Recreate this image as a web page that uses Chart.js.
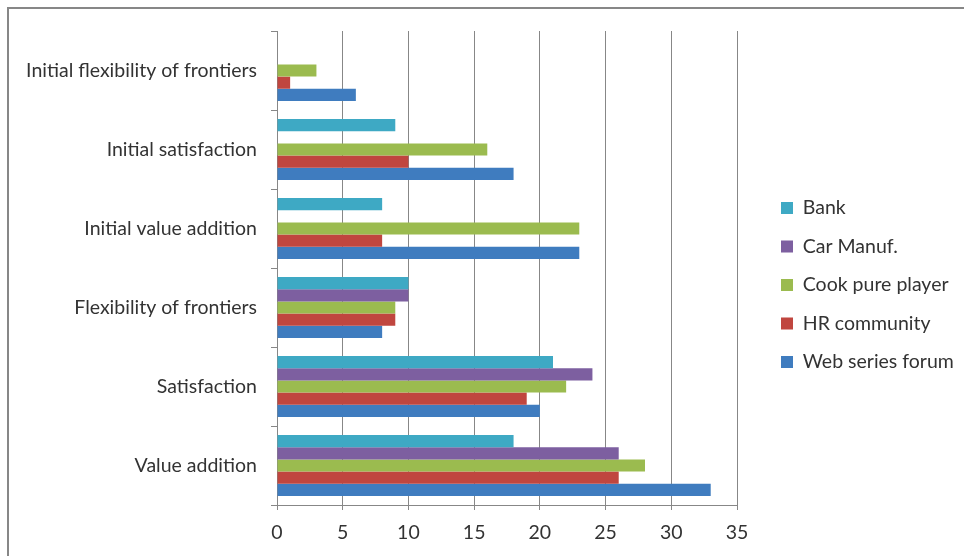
<!DOCTYPE html>
<html>
<head>
<meta charset="utf-8">
<script src="https://cdn.jsdelivr.net/npm/chart.js@4"></script>
<style>
  html, body { margin: 0; padding: 0; background: #fff; }
  #wrap { position: relative; width: 964px; height: 556px; overflow: hidden; }
  #frame { position: absolute; left: 7px; top: 7px; width: 1000px; height: 600px; border: 2px solid #878787; }
  #chart { position: absolute; left: 0; top: 0; }
</style>
</head>
<body>
<div id="wrap">
  <div id="frame"></div>
  <canvas id="chart" width="964" height="556"></canvas>
</div>
<script>
// data, top to bottom as drawn
const categories = [
    "Initial flexibility of frontiers",
    "Initial satisfaction",
    "Initial value addition",
    "Flexibility of frontiers",
    "Satisfaction",
    "Value addition"
];

const bank      = [null, 9, 8, 10, 21, 18];
const carManuf  = [null, null, null, 10, 24, 26];
const cookPure  = [3, 16, 23, 9, 22, 28];
const hrCommunity = [1, 10, 8, 9, 19, 26];
const webForum  = [6, 18, 23, 8, 20, 33];

const xTicks = [0, 5, 10, 15, 20, 25, 30, 35];

const seriesNames = ["Bank", "Car Manuf.", "Cook pure player", "HR community", "Web series forum"];
const seriesValues = [bank, carManuf, cookPure, hrCommunity, webForum];
const seriesColors = ['#3EA9C4', '#7D5FA0', '#9BBB4F', '#C0463F', '#3F7CBF'];

const fontFamily = 'Lato, "Open Sans", sans-serif';
const fontSize = 19.5;
const textColor = '#333333';
const axisGray = '#878787';

// legend gets a fixed width so the plot ends at 35 where the original does,
// then it is moved to the original's spot
const legendPlace = {
    id: 'legendPlace',
    afterInit(chart) {
        const lg = chart.legend;
        const fit = lg.fit.bind(lg);
        lg.fit = function () {
            fit();
            this.width = 227;
        };
    },
    afterLayout(chart) {
        const lg = chart.legend;
        const w = lg.width, h = lg.height;
        lg.left = 762;
        lg.right = lg.left + w;
        lg.top = 285 - h / 2;
        lg.bottom = lg.top + h;
    }
};

const canvas = document.getElementById("chart");

new Chart(canvas, {
    type: 'bar',
    data: {
        labels: categories,
        datasets: seriesNames.map((name, i) => ({
            label: name,
            data: seriesValues[i],
            backgroundColor: seriesColors[i],
            borderWidth: 0,
            barPercentage: 1,
            categoryPercentage: 5 / 6.5
        }))
    },
    options: {
        indexAxis: 'y',
        responsive: false,
        animation: false,
        layout: {
            padding: { top: 31, left: 0, right: 0, bottom: 0 }
        },
        scales: {
            x: {
                min: 0,
                max: 35,
                afterBuildTicks: axis => {
                    axis.ticks = xTicks.map(v => ({ value: v }));
                },
                afterFit: axis => { axis.height = 51; },
                grid: {
                    color: axisGray,
                    lineWidth: 1,
                    drawTicks: true,
                    tickLength: 5,
                    tickColor: axisGray
                },
                border: { display: true, color: axisGray, width: 1 },
                ticks: {
                    color: textColor,
                    font: { family: fontFamily, size: fontSize },
                    padding: 11
                }
            },
            y: {
                afterFit: axis => { axis.width = 277; },
                grid: {
                    offset: true,
                    drawOnChartArea: false,
                    drawTicks: true,
                    tickLength: 6,
                    tickColor: axisGray
                },
                border: { display: true, color: axisGray, width: 1 },
                ticks: {
                    color: textColor,
                    font: { family: fontFamily, size: fontSize },
                    padding: 14
                }
            }
        },
        plugins: {
            legend: {
                position: 'right',
                labels: {
                    boxWidth: 12,
                    boxHeight: 12,
                    padding: 19,
                    color: textColor,
                    font: { family: fontFamily, size: fontSize }
                }
            },
            tooltip: { enabled: false }
        }
    },
    plugins: [legendPlace]
});
</script>
</body>
</html>
